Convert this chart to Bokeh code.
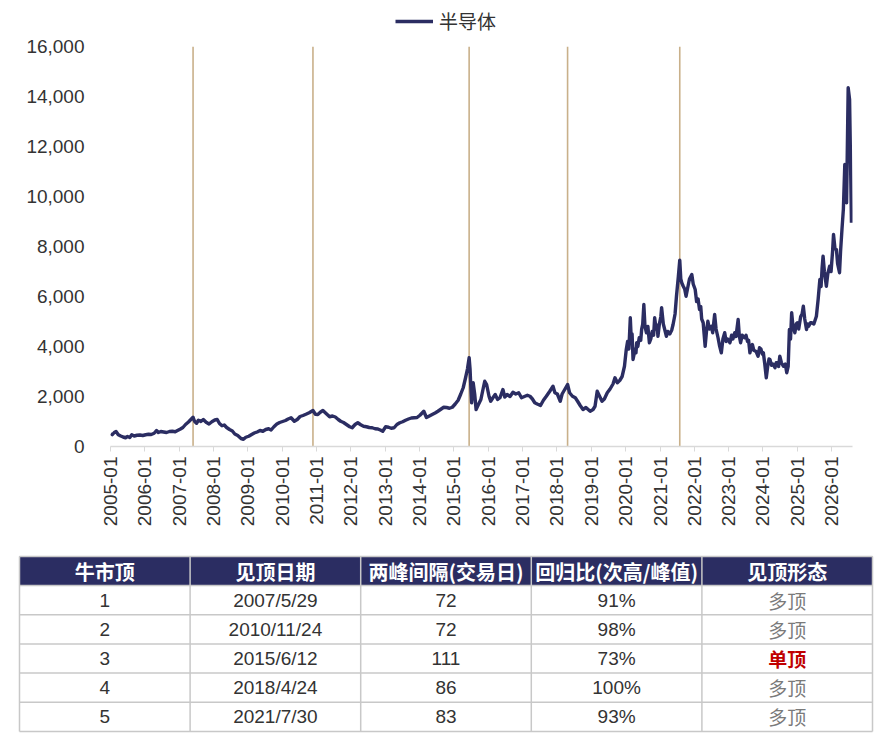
import numpy as np
import pandas as pd
from bokeh.plotting import figure
from bokeh.models import (Range1d, FixedTicker, NumeralTickFormatter,
                          DatetimeTickFormatter, Legend, LegendItem)
from bokeh.core.properties import value
from bokeh.embed import file_html
from bokeh.resources import INLINE

# ---- index series ----
dates = [
    "2005-01-04", "2005-01-20", "2005-02-10", "2005-03-01", "2005-03-25", "2005-04-20",
    "2005-05-15", "2005-06-10", "2005-07-01", "2005-07-25", "2005-08-15", "2005-09-10",
    "2005-10-10", "2005-11-10", "2005-12-10", "2006-01-10", "2006-02-10", "2006-03-10",
    "2006-04-10", "2006-05-05", "2006-05-25", "2006-06-20", "2006-07-20", "2006-08-20",
    "2006-09-20", "2006-10-20", "2006-11-20", "2006-12-15", "2007-01-15", "2007-02-10",
    "2007-03-10", "2007-04-10", "2007-05-29", "2007-06-15", "2007-07-05", "2007-07-25",
    "2007-08-20", "2007-09-15", "2007-10-15", "2007-11-15", "2007-12-15", "2008-01-15",
    "2008-02-10", "2008-03-05", "2008-04-01", "2008-04-25", "2008-05-20", "2008-06-20",
    "2008-07-20", "2008-08-15", "2008-09-15", "2008-10-20", "2008-11-15", "2008-12-10",
    "2009-01-10", "2009-02-10", "2009-03-10", "2009-04-10", "2009-05-10", "2009-06-10",
    "2009-07-10", "2009-08-10", "2009-09-05", "2009-10-05", "2009-11-05", "2009-12-05",
    "2010-01-05", "2010-02-05", "2010-03-05", "2010-04-05", "2010-05-10", "2010-06-10",
    "2010-07-10", "2010-08-10", "2010-09-10", "2010-10-15", "2010-11-24", "2010-12-20",
    "2011-01-15", "2011-02-10", "2011-03-10", "2011-04-10", "2011-05-20", "2011-06-20",
    "2011-07-20", "2011-08-20", "2011-09-15", "2011-10-15", "2011-11-15", "2011-12-20",
    "2012-01-15", "2012-02-15", "2012-03-15", "2012-04-15", "2012-05-15", "2012-06-15",
    "2012-07-15", "2012-08-15", "2012-09-15", "2012-10-15", "2012-11-15", "2012-12-05",
    "2013-01-05", "2013-02-05", "2013-03-05", "2013-04-05", "2013-05-05", "2013-06-05",
    "2013-07-05", "2013-08-05", "2013-09-05", "2013-10-05", "2013-11-05", "2013-12-05",
    "2014-01-05", "2014-02-15", "2014-03-15", "2014-04-15", "2014-05-15", "2014-06-15",
    "2014-07-15", "2014-08-15", "2014-09-15", "2014-10-15", "2014-11-15", "2014-12-15",
    "2015-01-15", "2015-02-15", "2015-03-15", "2015-04-10", "2015-05-05", "2015-05-25",
    "2015-06-12", "2015-06-22", "2015-07-01", "2015-07-08", "2015-07-25", "2015-08-10",
    "2015-08-25", "2015-09-15", "2015-10-15", "2015-11-10", "2015-11-25", "2015-12-15",
    "2016-01-10", "2016-01-27", "2016-02-20", "2016-03-15", "2016-04-10", "2016-05-05",
    "2016-06-05", "2016-06-25", "2016-07-20", "2016-08-20", "2016-09-20", "2016-10-20",
    "2016-11-20", "2016-12-20", "2017-01-20", "2017-02-20", "2017-03-20", "2017-04-15",
    "2017-05-10", "2017-06-05", "2017-07-10", "2017-08-10", "2017-09-10", "2017-10-15",
    "2017-11-20", "2017-12-10", "2018-01-05", "2018-02-05", "2018-02-25", "2018-03-20",
    "2018-04-24", "2018-05-15", "2018-06-15", "2018-07-15", "2018-08-10", "2018-09-05",
    "2018-10-05", "2018-11-05", "2018-12-20", "2019-01-20", "2019-02-10", "2019-03-05",
    "2019-03-25", "2019-04-25", "2019-05-20", "2019-06-20", "2019-07-20", "2019-08-20",
    "2019-09-10", "2019-10-05", "2019-11-01", "2019-11-25", "2019-12-20", "2020-01-08",
    "2020-01-22", "2020-02-05", "2020-02-20", "2020-03-01", "2020-03-10", "2020-03-20",
    "2020-04-01", "2020-04-10", "2020-04-20", "2020-04-28", "2020-05-10", "2020-05-25",
    "2020-06-10", "2020-06-20", "2020-07-01", "2020-07-13", "2020-07-25", "2020-08-10",
    "2020-08-25", "2020-09-10", "2020-09-25", "2020-10-10", "2020-10-25", "2020-11-05",
    "2020-11-20", "2020-12-01", "2020-12-10", "2020-12-25", "2021-01-10", "2021-01-18",
    "2021-02-05", "2021-02-20", "2021-03-10", "2021-03-25", "2021-04-15", "2021-05-05",
    "2021-05-20", "2021-06-10", "2021-06-25", "2021-07-15", "2021-07-30", "2021-08-10",
    "2021-08-20", "2021-09-05", "2021-09-20", "2021-10-05", "2021-10-20", "2021-11-10",
    "2021-12-05", "2021-12-20", "2022-01-10", "2022-01-25", "2022-02-10", "2022-02-25",
    "2022-03-10", "2022-03-20", "2022-04-05", "2022-04-15", "2022-04-26", "2022-05-10",
    "2022-05-25", "2022-06-10", "2022-07-01", "2022-07-15", "2022-08-05", "2022-08-20",
    "2022-09-10", "2022-09-25", "2022-10-15", "2022-11-01", "2022-11-20", "2022-12-05",
    "2022-12-20", "2023-01-15", "2023-02-01", "2023-02-15", "2023-03-07", "2023-03-20",
    "2023-04-12", "2023-04-25", "2023-05-08", "2023-05-25", "2023-06-20", "2023-07-05",
    "2023-07-20", "2023-08-01", "2023-08-15", "2023-08-28", "2023-09-10", "2023-09-25",
    "2023-10-20", "2023-11-10", "2023-11-25", "2023-12-10", "2023-12-25", "2024-01-05",
    "2024-01-20", "2024-02-05", "2024-02-20", "2024-03-05", "2024-03-15", "2024-04-01",
    "2024-04-15", "2024-05-08", "2024-05-20", "2024-06-01", "2024-06-15", "2024-06-28",
    "2024-07-15", "2024-08-05", "2024-08-25", "2024-09-10", "2024-09-25", "2024-10-08",
    "2024-10-20", "2024-11-01", "2024-11-15", "2024-12-05", "2024-12-20", "2025-01-01",
    "2025-01-15", "2025-02-05", "2025-02-20", "2025-03-05", "2025-03-20", "2025-04-08",
    "2025-04-20", "2025-05-01", "2025-05-20", "2025-06-01", "2025-06-25", "2025-07-22",
    "2025-08-10", "2025-08-28", "2025-09-10", "2025-09-20", "2025-10-01", "2025-10-15",
    "2025-11-05", "2025-11-20", "2025-12-10", "2025-12-25", "2026-01-10", "2026-01-20",
    "2026-02-05", "2026-02-20", "2026-03-05", "2026-03-25", "2026-04-05", "2026-04-20",
    "2026-05-05", "2026-05-20", "2026-06-08", "2026-06-25", "2026-07-10", "2026-07-30",
]
semi_index = [
    520, 470, 560, 600, 470, 420,
    380, 350, 400, 360, 470, 420,
    450, 460, 440, 470, 490, 480,
    530, 640, 560, 600, 580, 560,
    600, 610, 590, 640, 700, 760,
    880, 980, 1170, 1000, 930, 1050,
    1000, 1080, 970, 900, 990, 1060,
    1080, 920, 830, 860, 760, 680,
    620, 500, 440, 320, 290, 370,
    410, 480, 540, 580, 640, 610,
    680, 710, 660, 790, 900, 960,
    1000, 1040, 1100, 1150, 1010, 1080,
    1200, 1240, 1290, 1350, 1440, 1290,
    1280, 1370, 1440, 1330, 1190, 1220,
    1180, 1080, 1010, 960, 880, 790,
    750, 880, 950, 870, 810, 790,
    760, 750, 710, 700, 650, 610,
    790, 770, 730, 750, 880, 950,
    990, 1050, 1100, 1140, 1150, 1160,
    1250, 1410, 1160, 1220, 1280, 1340,
    1410, 1490, 1570, 1560, 1530, 1570,
    1700, 1850, 2100, 2350, 2750, 3100,
    3550, 3080, 2300, 1750, 2550, 2100,
    1480, 1650, 1880, 2350, 2610, 2480,
    2000, 1810, 1950, 2080, 1880, 1950,
    2280, 1980, 2080, 2000, 2170, 2100,
    2150, 1950, 2000, 2050, 2010, 1900,
    1750, 1700, 1640, 1850, 2010, 2200,
    2410, 2150, 2100, 1810, 2100, 2250,
    2480, 2150, 2010, 1950, 1800, 1640,
    1480, 1560, 1410, 1480, 1610, 2210,
    2050, 1810, 1900, 2150, 2300, 2500,
    2750, 2550, 2650, 2800, 3210, 3880,
    4200, 3900, 5150, 4300, 4500, 3480,
    3700, 3900, 3750, 4150, 4000, 4350,
    4250, 4700, 4900, 5680, 4800, 4550,
    4800, 4150, 4300, 4600, 4450, 5150,
    4700, 4850, 4410, 4900, 5200, 5550,
    4900, 4680, 4410, 4600, 4500, 4650,
    4880, 5300, 6010, 6800, 7450, 6700,
    6550, 6410, 6300, 6010, 6300, 6700,
    6880, 6500, 6280, 5800, 5900, 5480,
    5600, 5100, 4950, 4500, 4010, 4600,
    5010, 4700, 4810, 4550, 5280, 4700,
    4350, 4050, 3750, 4300, 4550, 4200,
    4300, 4150, 4450, 4300, 4550, 4400,
    5080, 4400, 4150, 4450, 4350, 4450,
    4200, 4250, 3750, 3950, 4080, 3850,
    3800, 3610, 3950, 3900, 3700, 3750,
    3300, 2750, 3200, 3500, 3480, 3250,
    3300, 3150, 3350, 3350, 3200, 3610,
    3350, 3210, 3300, 2950, 3200, 4680,
    4300, 5350, 4800, 4550, 4900, 4950,
    4700, 5200, 5300, 5610, 5100, 4680,
    4900, 4810, 4950, 4950, 4900, 5210,
    5900, 6680, 6400, 7100, 7610, 7000,
    6410, 6900, 7210, 7000, 7800, 8480,
    7900, 7880, 7300, 6950, 7800, 8680,
    9500, 11280, 9750, 14350, 13880, 8950,
]
series_name = "半导体"

# ---- table ----
headers = ["牛市顶", "见顶日期", "两峰间隔(交易日)", "回归比(次高/峰值)", "见顶形态"]
top_no = ["1", "2", "3", "4", "5"]
top_dates = ["2007/5/29", "2010/11/24", "2015/6/12", "2018/4/24", "2021/7/30"]
gap_days = ["72", "72", "111", "86", "83"]
return_ratio = ["91%", "98%", "73%", "100%", "93%"]
top_shape = ["多顶", "多顶", "单顶", "多顶", "多顶"]

year_ticks = list(range(2005, 2027))
y_ticks = list(range(0, 16001, 2000))

NAVY = "#2b2d62"
TAN = "#c9b08a"
GRID = "#c8c8c8"
TXT = "#333333"
W = 880

# ---------------- legend strip ----------------
lf = figure(width=W, height=36, x_range=Range1d(0, W), y_range=Range1d(0, 36),
            output_backend="svg", toolbar_location=None, min_border=0,
            x_axis_location=None, y_axis_location=None)
lf.grid.visible = False
lf.outline_line_color = None
lr = lf.line(x=[np.nan], y=[np.nan], line_color=NAVY, line_width=3.5)
legend = Legend(items=[LegendItem(label=series_name, renderers=[lr])],
                orientation="horizontal", location=(395, 2),
                border_line_color=None, background_fill_alpha=0,
                label_text_font="Noto Sans CJK SC", label_text_font_size="19px",
                label_text_color=TXT, glyph_width=38, glyph_height=20,
                label_height=20, label_standoff=6, padding=0, margin=0, spacing=0)
lf.add_layout(legend)

# ---------------- chart ----------------
x_dt = pd.to_datetime(dates)
peak_dt = pd.to_datetime(top_dates, format="%Y/%m/%d")

p = figure(width=W, height=513, x_axis_type="datetime",
           x_range=Range1d(pd.Timestamp("2005-01-01"), pd.Timestamp("2026-08-10")),
           y_range=Range1d(0, 16000),
           output_backend="svg", toolbar_location=None,
           min_border_left=110, min_border_right=28,
           min_border_top=10, min_border_bottom=103)

p.segment(x0=peak_dt, y0=0, x1=peak_dt, y1=16000, line_color=TAN, line_width=1.6)
p.line(x=x_dt, y=semi_index, line_color=NAVY, line_width=3.4, line_join="round")

p.xgrid.visible = False
p.ygrid.visible = False
p.outline_line_color = None

p.yaxis.ticker = FixedTicker(ticks=y_ticks)
p.yaxis.formatter = NumeralTickFormatter(format="0,0")
p.yaxis.axis_line_color = None
p.yaxis.major_tick_line_color = None
p.yaxis.minor_tick_line_color = None
p.yaxis.major_tick_out = 0
p.yaxis.major_label_standoff = 26
p.yaxis.major_label_text_font = "Liberation Sans"
p.yaxis.major_label_text_font_size = "19px"
p.yaxis.major_label_text_color = TXT

tick_ms = [pd.Timestamp(f"{yr}-01-01").value // 10**6 for yr in year_ticks]
p.xaxis.ticker = FixedTicker(ticks=tick_ms)
p.xaxis.formatter = DatetimeTickFormatter(years="%Y-%m", months="%Y-%m", days="%Y-%m",
                                          hours="%Y-%m", hourmin="%Y-%m")
p.xaxis.axis_line_color = "#d9d9d9"
p.xaxis.axis_line_width = 1.5
p.xaxis.major_tick_line_color = "#d9d9d9"
p.xaxis.major_tick_out = 5
p.xaxis.major_tick_in = 0
p.xaxis.minor_tick_line_color = None
p.xaxis.major_label_orientation = np.pi / 2
p.xaxis.major_label_standoff = 5
p.xaxis.major_label_text_font = "Liberation Sans"
p.xaxis.major_label_text_font_size = "19px"
p.xaxis.major_label_text_color = TXT

# ---------------- table ----------------
t = figure(width=W, height=190, x_range=Range1d(0, W), y_range=Range1d(190, 0),
           output_backend="svg", toolbar_location=None, min_border=0,
           x_axis_location=None, y_axis_location=None)
t.grid.visible = False
t.outline_line_color = None

ncol = len(headers)
nrow = len(top_no)
left, right, top = 19, 872, 7
head_h, row_h = 29, 29.2
col_w = (right - left) / ncol
bottom = top + head_h + nrow * row_h

t.quad(left=left, right=right, top=top, bottom=top + head_h, fill_color=NAVY, line_color=None)

# grid lines
xs = [left + col_w * i for i in range(ncol + 1)]
t.segment(x0=xs, y0=[top] * len(xs), x1=xs, y1=[bottom] * len(xs), line_color=GRID, line_width=1.5)
ys = [top + head_h + row_h * j for j in range(nrow + 1)]
t.segment(x0=[left] * len(ys), y0=ys, x1=[right] * len(ys), y1=ys, line_color=GRID, line_width=1.5)
t.segment(x0=[left], y0=[top], x1=[right], y1=[top], line_color=GRID, line_width=1.5)

cx = [left + col_w * (i + 0.5) for i in range(ncol)]
t.text(x=cx, y=[top + head_h / 2] * ncol, text=headers, text_color="white",
       text_font=value("Noto Sans CJK SC"), text_font_style="bold", text_font_size="20px",
       text_align="center", text_baseline="middle")

num_x, num_y, num_t = [], [], []
for j in range(nrow):
    yc = top + head_h + row_h * (j + 0.5)
    for i, col in enumerate([top_no, top_dates, gap_days, return_ratio]):
        num_x.append(cx[i])
        num_y.append(yc)
        num_t.append(col[j])
t.text(x=num_x, y=num_y, text=num_t, text_color=TXT,
       text_font=value("Liberation Sans"), text_font_size="19px",
       text_align="center", text_baseline="middle")

row_y = [top + head_h + row_h * (j + 0.5) for j in range(nrow)]
multi = [j for j in range(nrow) if top_shape[j] != "单顶"]
single = [j for j in range(nrow) if top_shape[j] == "单顶"]
t.text(x=[cx[4]] * len(multi), y=[row_y[j] for j in multi], text=[top_shape[j] for j in multi],
       text_color="#7a7a7a", text_font=value("Noto Sans CJK SC"), text_font_size="19px",
       text_align="center", text_baseline="middle")
t.text(x=[cx[4]] * len(single), y=[row_y[j] for j in single], text=[top_shape[j] for j in single],
       text_color="#c00000", text_font=value("Noto Sans CJK SC"), text_font_style="bold",
       text_font_size="19px", text_align="center", text_baseline="middle")

# three separate roots so that Bokeh does not align their frames
open("out.html", "w").write(file_html([lf, p, t], INLINE))
